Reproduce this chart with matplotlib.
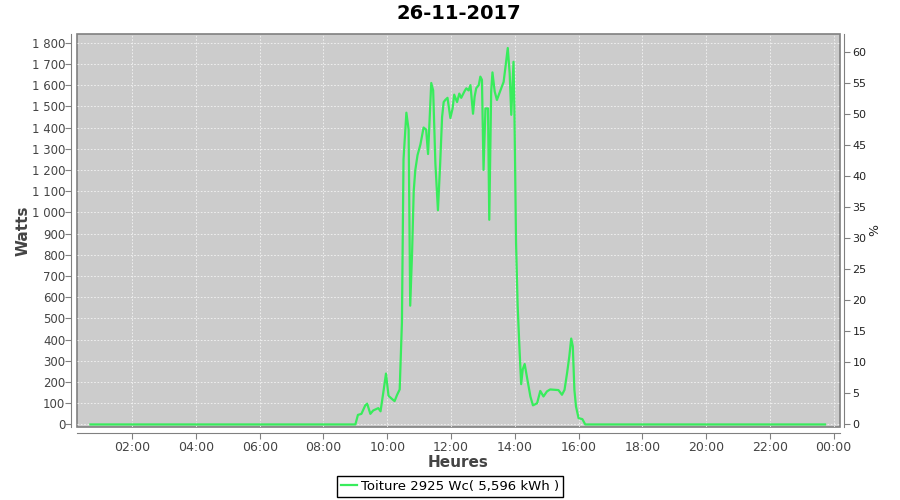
import matplotlib.pyplot as plt
from matplotlib.ticker import FuncFormatter

# Production du jour (heure décimale, watts)
heures = [0.69, 9.00, 9.08, 9.19, 9.31, 9.37, 9.47, 9.56, 9.72, 9.79,
          9.89, 9.96, 10.04, 10.15, 10.23, 10.31, 10.39, 10.46, 10.51, 10.60,
          10.67, 10.72, 10.78, 10.83, 10.88, 10.95, 11.04, 11.14, 11.22, 11.28,
          11.38, 11.44, 11.51, 11.59, 11.66, 11.72, 11.77, 11.82, 11.89, 11.98,
          12.05, 12.10, 12.19, 12.26, 12.32, 12.42, 12.48, 12.55, 12.61, 12.69,
          12.74, 12.79, 12.87, 12.92, 12.97, 13.02, 13.08, 13.16, 13.20, 13.26,
          13.30, 13.37, 13.44, 13.55, 13.65, 13.72, 13.78, 13.84, 13.89, 13.96,
          13.99, 14.04, 14.09, 14.15, 14.20, 14.25, 14.31, 14.38, 14.49, 14.57,
          14.70, 14.80, 14.90, 15.01, 15.11, 15.37, 15.48, 15.56, 15.64, 15.71,
          15.77, 15.82, 15.87, 15.92, 16.00, 16.12, 16.21, 23.73]
watts = [0, 0, 45, 50, 90, 98, 50, 66, 77, 62,
         165, 240, 135, 120, 110, 140, 165, 480, 1250, 1470,
         1390, 560, 815, 1100, 1200, 1270, 1320, 1400, 1390, 1275,
         1610, 1575, 1230, 1010, 1230, 1450, 1520, 1530, 1540, 1445,
         1490, 1555, 1520, 1560, 1540, 1570, 1585, 1575, 1600, 1465,
         1545, 1585, 1600, 1640, 1625, 1200, 1490, 1490, 965, 1570,
         1660, 1570, 1530, 1575, 1615, 1700, 1775, 1655, 1460, 1710,
         1465, 855, 560, 350, 190, 260, 285, 225, 132, 90,
         100, 158, 132, 156, 165, 162, 140, 163, 242, 320,
         405, 368, 163, 85, 30, 25, 0, 0]

PUISSANCE_CRETE = 2925
TITRE = '26-11-2017'
LEGENDE = 'Toiture 2925 Wc( 5,596 kWh )'
heures_ticks = list(range(2, 25, 2))
watts_ticks = list(range(0, 1801, 100))
pct_ticks = list(range(0, 61, 5))

GRIS = '#444444'
VERT = '#38ec5c'

fig = plt.figure(figsize=(9, 5), dpi=100)
ax = fig.add_axes([0.0856, 0.146, 0.8477, 0.786])
ax.set_facecolor('#cccccc')
ax.patch.set_edgecolor('#808080')
ax.patch.set_linewidth(1.2)

ax.plot(heures, watts, color=VERT, linewidth=1.6, label=LEGENDE)

ymin, ymax = -12, 1841
ax.set_xlim(0.27, 24.2)
ax.set_ylim(ymin, ymax)
ax.set_xticks(heures_ticks)
ax.xaxis.set_major_formatter(FuncFormatter(lambda v, p: '%02d:00' % (int(v) % 24)))
ax.set_yticks(watts_ticks)
ax.yaxis.set_major_formatter(FuncFormatter(lambda v, p: '{:,}'.format(int(v)).replace(',', ' ')))
ax.grid(True, color='#f4f4f4', linestyle=(0, (2, 2)), linewidth=0.6)

for s in ['top', 'right']:
    ax.spines[s].set_visible(False)
for s in ['left', 'bottom']:
    ax.spines[s].set_position(('outward', 4))
    ax.spines[s].set_color('#808080')
ax.tick_params(colors='#808080', labelcolor=GRIS, length=4, pad=2)
ax.tick_params(axis='x', labelsize=9)
ax.tick_params(axis='y', labelsize=8.5, pad=0.5)

ax.set_title(TITRE, fontsize=14, fontweight='bold', pad=11)
ax.set_xlabel('Heures', fontsize=11, fontweight='bold', color=GRIS, labelpad=1)
ax.set_ylabel('Watts', fontsize=11, fontweight='bold', color=GRIS, labelpad=1)

ax2 = ax.twinx()
ax2.set_ylim(ymin / PUISSANCE_CRETE * 100, ymax / PUISSANCE_CRETE * 100)
ax2.set_yticks(pct_ticks)
for s in ['top', 'left', 'bottom']:
    ax2.spines[s].set_visible(False)
ax2.spines['right'].set_position(('outward', 3))
ax2.spines['right'].set_color('#808080')
ax2.tick_params(colors='#808080', labelcolor='#222222', labelsize=8, length=4, pad=2)
ax2.set_ylabel('%', fontsize=9, color='#222222', labelpad=1)

leg = fig.legend(loc='lower center', bbox_to_anchor=(0.5, 0.006), fontsize=9.5,
                 fancybox=False, framealpha=1, edgecolor='black', handlelength=1.2,
                 handletextpad=0.3, borderpad=0.3, borderaxespad=0)
leg.get_frame().set_linewidth(1)

fig.savefig('out.png', dpi=100)
